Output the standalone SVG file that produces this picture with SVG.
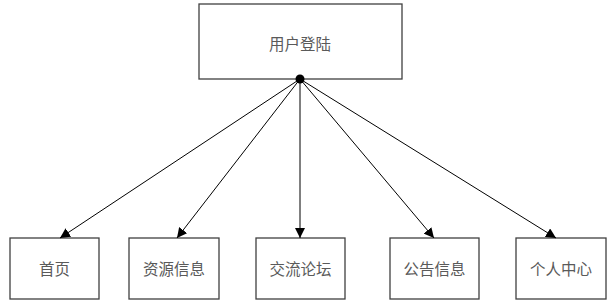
<svg xmlns="http://www.w3.org/2000/svg" width="614" height="308" viewBox="0 0 614 308">
<style>
.box{fill:#fff;stroke:#404040;stroke-width:1.3}
.lbl{font-family:"Noto Sans CJK SC","Liberation Sans",sans-serif;font-size:15.5px;fill:#5a5a5a;text-anchor:middle;dominant-baseline:central}
.edge{stroke:#000;stroke-width:1;fill:none}
</style>
<defs>
<marker id="arr" viewBox="0 0 10 10" refX="10" refY="5" markerWidth="10" markerHeight="10" markerUnits="userSpaceOnUse" orient="auto">
<path d="M0,0 L10,5 L0,10 z" fill="#000"/>
</marker>
</defs>
<rect width="614" height="308" fill="#fff"/>
<g id="login"><rect class="box" x="199" y="4" width="203" height="75"/><text class="lbl" x="300" y="43">用户登陆</text></g>
<g id="home"><rect class="box" x="10" y="238" width="89" height="61"/><text class="lbl" x="54.5" y="268">首页</text></g>
<g id="resource"><rect class="box" x="129" y="238" width="90" height="61"/><text class="lbl" x="174" y="268">资源信息</text></g>
<g id="forum"><rect class="box" x="256" y="238" width="89" height="61"/><text class="lbl" x="300.5" y="268">交流论坛</text></g>
<g id="notice"><rect class="box" x="390" y="238" width="89" height="61"/><text class="lbl" x="434.5" y="268">公告信息</text></g>
<g id="personal"><rect class="box" x="516" y="238" width="90" height="61"/><text class="lbl" x="561" y="268">个人中心</text></g>
<g id="connectors">
<line class="edge" x1="300" y1="79" x2="60" y2="238" marker-end="url(#arr)"/>
<line class="edge" x1="300" y1="79" x2="177" y2="238" marker-end="url(#arr)"/>
<line class="edge" x1="300" y1="79" x2="300" y2="238" marker-end="url(#arr)"/>
<line class="edge" x1="300" y1="79" x2="434" y2="238" marker-end="url(#arr)"/>
<line class="edge" x1="300" y1="79" x2="556" y2="238" marker-end="url(#arr)"/>
<circle cx="300" cy="79" r="4.5" fill="#000"/>
</g>
</svg>
